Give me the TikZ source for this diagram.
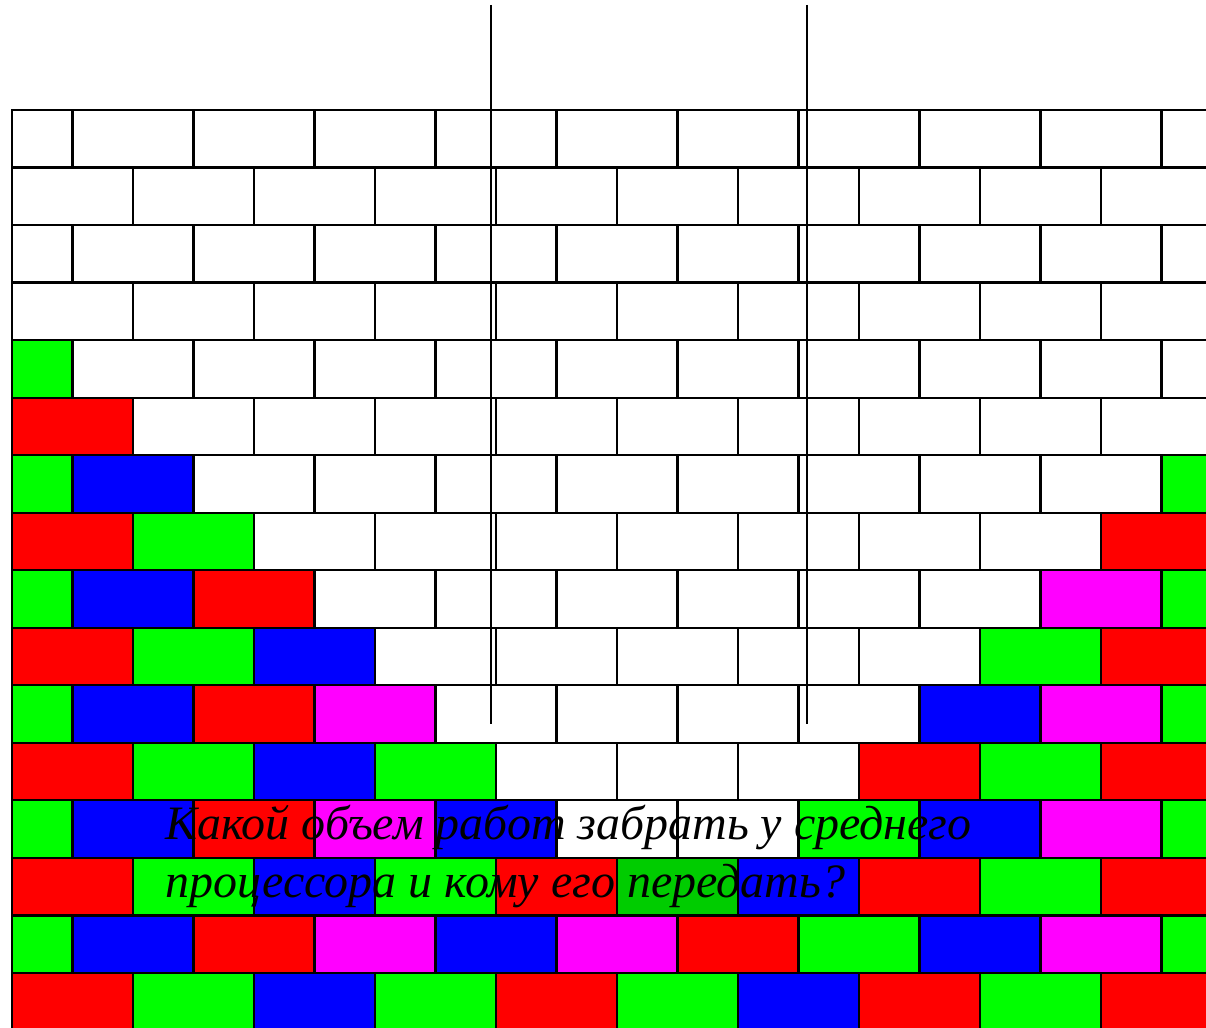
\documentclass[tikz,border=0pt]{standalone}
\usepackage{fontspec}
\setmainfont{Liberation Serif}
\usetikzlibrary{positioning}
\definecolor{brickW}{RGB}{255,255,255}
\definecolor{brickG}{RGB}{0,255,0}
\definecolor{brickD}{RGB}{0,204,0}
\definecolor{brickR}{RGB}{255,0,0}
\definecolor{brickB}{RGB}{0,0,255}
\definecolor{brickM}{RGB}{255,0,255}
\begin{document}
\begin{tikzpicture}[x=0.02cm, y=-0.02cm,
    brick/.style={draw=black, line width=0.045cm},
    cut/.style={black, line width=0.032cm},
    question/.style={font=\fontsize{27.3}{33}\selectfont\itshape, anchor=base west, inner sep=0pt},
  ]
  \useasboundingbox (0,0) rectangle (1206,1027);
  \clip (0,0) rectangle (1206,1027);
  % wall, row by row from the top (even-numbered rows start with a half brick)
  \foreach \row [count=\i from 0] in {
      {W,W,W,W,W,W,W,W,W,W,W},
      {W,W,W,W,W,W,W,W,W,W},
      {W,W,W,W,W,W,W,W,W,W,W},
      {W,W,W,W,W,W,W,W,W,W},
      {G,W,W,W,W,W,W,W,W,W,W},
      {R,W,W,W,W,W,W,W,W,W},
      {G,B,W,W,W,W,W,W,W,W,G},
      {R,G,W,W,W,W,W,W,W,R},
      {G,B,R,W,W,W,W,W,W,M,G},
      {R,G,B,W,W,W,W,W,G,R},
      {G,B,R,M,W,W,W,W,B,M,G},
      {R,G,B,G,W,W,W,R,G,R},
      {G,B,R,M,B,W,W,G,B,M,G},
      {R,G,B,G,R,D,B,R,G,R},
      {G,B,R,M,B,M,R,G,B,M,G},
      {R,G,B,G,R,G,B,R,G,R}}{
    \pgfmathsetmacro\ytop{110+\i*57.53}
    \pgfmathsetmacro\off{isodd(\i) ? 12 : -48.5}
    \foreach \c [count=\k from 0] in \row {
      \pgfmathsetmacro\xl{max(12,\off+\k*121)}
      \pgfmathsetmacro\xr{\off+(\k+1)*121}
      \filldraw[brick, fill=brick\c] (\xl,\ytop) rectangle (\xr,\ytop+57.53);
    }
  }
  % the two cuts through the wall
  \draw[cut] (491,5) -- (491,724);
  \draw[cut] (807,5) -- (807,724);
  % question
  \node[question] (q1) at (165,839) {Какой объем работ забрать у среднего};
  \node[question] (q2) at (165,897) {процессора и кому его передать?};
\end{tikzpicture}
\end{document}
